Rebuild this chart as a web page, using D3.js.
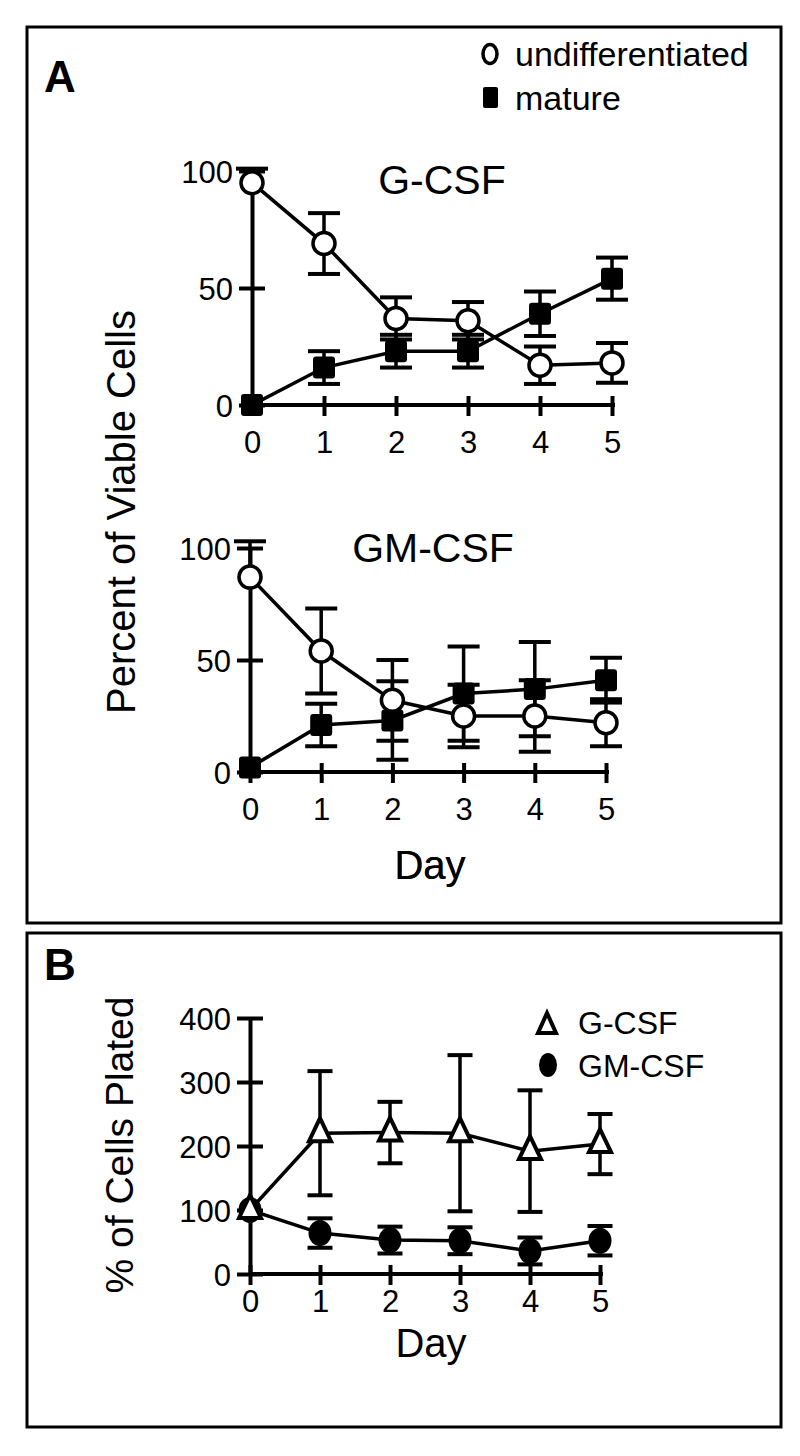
<!DOCTYPE html>
<html><head><meta charset="utf-8">
<script src="https://cdn.jsdelivr.net/npm/d3@7"></script>
<style>body{margin:0;background:#fff} svg{display:block} text{font-family:"Liberation Sans",Arial,sans-serif;fill:#000}</style>
</head><body><svg id="c" width="800" height="1456"></svg>
<script>
const days=[0,1,2,3,4,5];
const gcsfUndiff=[95,69,37,36,17,18];
const gcsfUndiffErr=[6,13,9,8,8,8.5];
const gcsfMature=[0,16,23,23,39,54];
const gcsfMatureErr=[0,7,7,7,9.5,9];
const gmUndiff=[87,54,32,25,25,22];
const gmUndiffErr=[16,19,18,14,16,10.5];
const gmMature=[2,21,23,35,37,41];
const gmMatureErr=[0,9.5,17.5,21,21,10];
const platedG=[100,220,221,220,192,203];
const platedGErr=[0,97,48,122,95,47];
const platedGM=[100,64,53,52,36,52];
const platedGMErr=[0,23,21,21,21,23];
const pctTicks=[0,50,100];
const platedTicks=[0,100,200,300,400];
const legendA=["undifferentiated","mature"];
const legendB=["G-CSF","GM-CSF"];

const svg=d3.select("#c");
// panel boxes
svg.append("rect").attr("x",27).attr("y",27).attr("width",754).attr("height",896).attr("fill","none").attr("stroke","#000").attr("stroke-width",3);
svg.append("rect").attr("x",27).attr("y",933).attr("width",754).attr("height",494).attr("fill","none").attr("stroke","#000").attr("stroke-width",3);
svg.append("text").attr("x",44).attr("y",92).attr("font-size",44).attr("font-weight","bold").text("A");
svg.append("text").attr("x",44).attr("y",980).attr("font-size",44).attr("font-weight","bold").text("B");

function marker(g,type,x,y){
  if(type==="open") g.append("circle").attr("cx",x).attr("cy",y).attr("r",11).attr("fill","#fff").attr("stroke","#000").attr("stroke-width",3.5);
  else if(type==="square") g.append("rect").attr("x",x-11).attr("y",y-11).attr("width",22).attr("height",22).attr("rx",3).attr("fill","#000");
  else if(type==="tri") g.append("path").attr("d",`M${x},${y-15}L${x-11},${y+8}L${x+11},${y+8}Z`).attr("fill","#fff").attr("stroke","#000").attr("stroke-width",4).attr("stroke-linejoin","miter");
  else if(type==="dot") g.append("ellipse").attr("cx",x).attr("cy",y).attr("rx",11.5).attr("ry",13).attr("fill","#000");
}

function panel(opts){
  const g=svg.append("g");
  const x=d3.scaleLinear().domain([0,5]).range(opts.xr);
  const y=d3.scaleLinear().domain(opts.ydom).range(opts.yr);
  const y0=opts.yr[0];
  // axes
  const ya=g.append("g").attr("transform",`translate(${opts.xr[0]},0)`)
    .call(d3.axisLeft(y).tickValues(opts.yticks).tickSizeOuter(0).tickSizeInner(0));
  ya.select(".domain").attr("stroke-width",4);
  ya.selectAll(".tick line").attr("x1",-13).attr("x2",13).attr("stroke-width",4);
  ya.selectAll(".tick text").attr("x",-19).attr("dy","0.36em").attr("font-size",opts.tickFont).attr("font-family",null);
  const xa=g.append("g").attr("transform",`translate(0,${y0})`)
    .call(d3.axisBottom(x).tickValues(days).tickSizeOuter(0).tickSizeInner(0).tickFormat(d3.format("d")));
  xa.select(".domain").attr("stroke-width",4).attr("d",`M${opts.xr[0]},0H${opts.xr[1]+3}`);
  xa.selectAll(".tick line").attr("y1",-9).attr("y2",11).attr("stroke-width",4);
  xa.selectAll(".tick text").attr("y",opts.xLabOff).attr("dy",null).attr("font-size",opts.tickFont).attr("font-family",null);
  if(opts.title) g.append("text").attr("x",opts.title[1]).attr("y",opts.title[2]).attr("text-anchor","middle").attr("font-size",41).text(opts.title[0]);
  g.append("text").attr("x",opts.dayPos[0]).attr("y",opts.dayPos[1]).attr("text-anchor","middle").attr("font-size",40).text("Day");
  const line=d3.line().x((d,i)=>x(days[i])).y(d=>y(d));
  opts.series.forEach(s=>{
    g.append("path").attr("d",line(s.v)).attr("fill","none").attr("stroke","#000").attr("stroke-width",3.5);
  });
  opts.series.forEach(s=>{
    s.v.forEach((v,i)=>{
      const e=s.e[i]; if(!e) return;
      const cx=x(days[i]);
      const lo=i===0?v:v-e; // at day 0 only the upper bar shows
      g.append("line").attr("x1",cx).attr("x2",cx).attr("y1",y(lo)).attr("y2",y(v+e)).attr("stroke","#000").attr("stroke-width",3.5);
      const caps=i===0?[v+e]:[v-e,v+e];
      caps.forEach(t=>g.append("line").attr("x1",cx-s.cap).attr("x2",cx+s.cap).attr("y1",y(t)).attr("y2",y(t)).attr("stroke","#000").attr("stroke-width",4));
    });
  });
  opts.series.forEach(s=>{
    s.v.forEach((v,i)=>marker(g,s.m,x(days[i]),y(v)));
  });
}

panel({xr:[252,612],yr:[405,171],ydom:[0,100],yticks:pctTicks,tickFont:31,xLabOff:48,title:["G-CSF",442,194],dayPos:[430,879],
  series:[{v:gcsfMature,e:gcsfMatureErr,m:"square",cap:16},{v:gcsfUndiff,e:gcsfUndiffErr,m:"open",cap:16}]});
panel({xr:[250,606],yr:[772,548],ydom:[0,100],yticks:pctTicks,tickFont:31,xLabOff:48,title:["GM-CSF",433,562],dayPos:[430,879],
  series:[{v:gmMature,e:gmMatureErr,m:"square",cap:16},{v:gmUndiff,e:gmUndiffErr,m:"open",cap:16}]});
panel({xr:[250,600],yr:[1274,1018],ydom:[0,400],yticks:platedTicks,tickFont:31,xLabOff:38,title:null,dayPos:[431,1357],
  series:[{v:platedGM,e:platedGMErr,m:"dot",cap:12.5},{v:platedG,e:platedGErr,m:"tri",cap:12.5}]});

// y labels
svg.append("text").attr("transform","translate(135,512) rotate(-90)").attr("text-anchor","middle").attr("font-size",40).text("Percent of Viable Cells");
svg.append("text").attr("transform","translate(133,1145) rotate(-90)").attr("text-anchor","middle").attr("font-size",39).text("% of Cells Plated");

// legend A
svg.append("ellipse").attr("cx",490).attr("cy",54).attr("rx",7).attr("ry",9.5).attr("fill","#fff").attr("stroke","#000").attr("stroke-width",3.5);
svg.append("rect").attr("x",483).attr("y",87).attr("width",15).attr("height",21).attr("rx",2).attr("fill","#000");
svg.append("text").attr("x",515).attr("y",66).attr("font-size",34).text(legendA[0]);
svg.append("text").attr("x",515).attr("y",110).attr("font-size",34).text(legendA[1]);
// legend B
svg.append("path").attr("d","M547,1013L538,1033L556,1033Z").attr("fill","#fff").attr("stroke","#000").attr("stroke-width",4);
svg.append("ellipse").attr("cx",548).attr("cy",1065).attr("rx",9).attr("ry",12).attr("fill","#000");
svg.append("text").attr("x",578).attr("y",1034).attr("font-size",32).text(legendB[0]);
svg.append("text").attr("x",578).attr("y",1077).attr("font-size",32).text(legendB[1]);
</script></body></html>
